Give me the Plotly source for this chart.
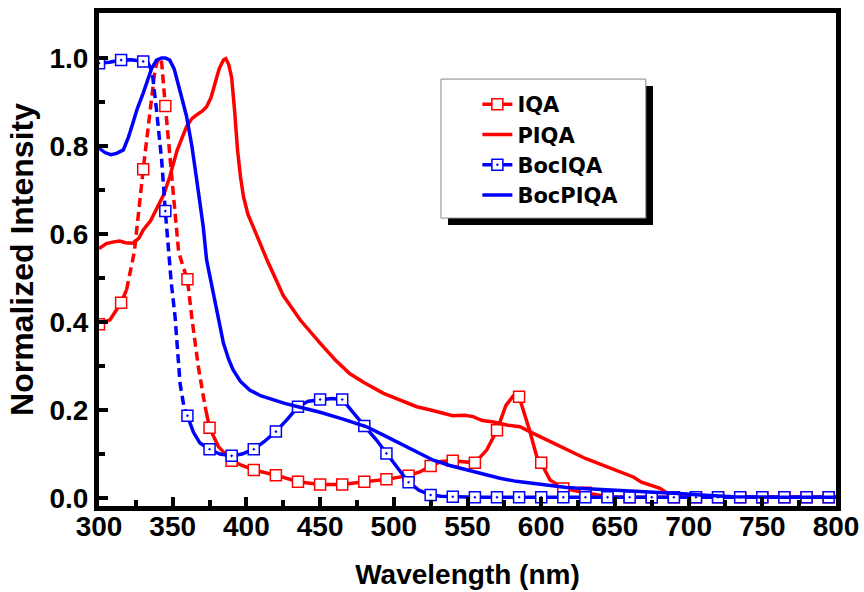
import plotly.graph_objects as go

# ---------------- data ----------------
IQA_x = [300, 307.5, 315, 318.7, 324, 330, 334.6, 338, 340.2, 342.5, 345, 349, 351.5, 354, 357, 360,
         362.9, 367.4, 372, 375, 381, 390, 397, 405, 420, 435, 450, 465, 480, 495, 510, 518, 525, 532,
         540, 548, 555, 563, 570, 576, 581, 585, 592, 597, 600, 606, 615, 630, 645, 660, 675, 690, 705,
         720, 735, 750, 765, 780, 795, 800]
IQA_y = [0.395, 0.405, 0.444, 0.473, 0.56, 0.747, 0.882, 0.973, 1.0, 0.99, 0.891, 0.745, 0.64, 0.56, 0.526, 0.497,
         0.412, 0.298, 0.2075, 0.16, 0.117, 0.085, 0.074, 0.064, 0.052, 0.037, 0.031, 0.031, 0.037, 0.0425, 0.051, 0.06, 0.073, 0.083,
         0.085, 0.082, 0.080, 0.109, 0.154, 0.21, 0.232, 0.230, 0.155, 0.094, 0.080, 0.041, 0.022, 0.012, 0.003, 0.002, 0.002, 0.002, 0.002,
         0.002, 0.002, 0.002, 0.002, 0.002, 0.002, 0.002]

PIQA_x = [300, 305, 310, 314, 318, 323, 327, 330, 335, 339, 344, 348, 353, 359.4, 363, 366, 370, 373, 376, 378.7,
          381.5, 384.4, 386, 388, 390, 392, 394, 396, 398, 401, 405, 410, 414, 425, 436.4, 450, 460, 470, 480,
          493, 505, 515.6, 525, 533.6, 540, 548, 553.8, 560, 567.5, 576.6, 585.6, 594.6, 605, 617.3, 630, 640,
          652, 662.5, 668, 674, 680.6, 687.4, 695, 720, 760, 800]
PIQA_y = [0.567, 0.578, 0.582, 0.584, 0.580, 0.579, 0.59, 0.609, 0.63, 0.655, 0.69, 0.73, 0.79, 0.844, 0.862, 0.87, 0.879, 0.889, 0.91, 0.942,
          0.975, 0.995, 0.998, 0.985, 0.955, 0.88, 0.79, 0.73, 0.685, 0.645, 0.612, 0.57, 0.541, 0.46, 0.405, 0.352, 0.315, 0.283, 0.262,
          0.238, 0.222, 0.2075, 0.2, 0.1925, 0.187, 0.188, 0.185, 0.176, 0.173, 0.166, 0.162, 0.147, 0.13, 0.109, 0.09, 0.077,
          0.062, 0.048, 0.036, 0.030, 0.022, 0.007, 0.003, 0.002, 0.002, 0.002]

BocIQA_x = [300, 307, 315, 322, 330, 333, 336, 339, 342.5, 345, 347, 349, 351.6, 355, 357.5, 360, 364, 368.5,
            375, 382, 390, 397, 405, 412, 420, 428, 435, 442, 450, 458, 465, 472, 480, 488, 495, 503, 510,
            517, 525, 532, 540, 555, 570, 585, 600, 615, 630, 645, 660, 675, 690, 705, 720, 735, 750, 765,
            780, 795, 800]
BocIQA_y = [0.988, 0.99, 0.995, 0.996, 0.992, 0.99, 0.97, 0.882, 0.768, 0.652, 0.564, 0.49, 0.412, 0.26, 0.21, 0.187, 0.15, 0.125,
            0.111, 0.1, 0.096, 0.1, 0.111, 0.128, 0.151, 0.18, 0.2075, 0.22, 0.224, 0.226, 0.224, 0.195, 0.164, 0.133, 0.1015, 0.065, 0.036,
            0.018, 0.007, 0.004, 0.003, 0.002, 0.002, 0.002, 0.002, 0.002, 0.002, 0.002, 0.002, 0.002, 0.002, 0.002, 0.002, 0.002, 0.002, 0.002,
            0.002, 0.002, 0.002]

BocPIQA_x = [300, 304, 308, 312, 316.5, 320, 323, 326, 330, 335.7, 339, 342.5, 345, 348, 351, 353.8, 356.5, 359.4,
             363, 366, 368.5, 370.7, 373, 375.5, 378.7, 381.5, 384.4, 388, 391, 396, 402.4, 410, 418, 426, 435,
             450, 465, 481.6, 493, 504, 515, 526.8, 538, 549.4, 560, 572, 583, 594.6, 605, 617.3, 628, 640, 652,
             662.5, 674, 685, 696, 708, 720, 730, 760, 800]
BocPIQA_y = [0.795, 0.785, 0.78, 0.783, 0.791, 0.82, 0.852, 0.885, 0.92, 0.976, 0.995, 1.0, 1.0, 0.995, 0.975, 0.942, 0.905, 0.867,
             0.8, 0.73, 0.67, 0.617, 0.541, 0.5, 0.45, 0.395, 0.352, 0.315, 0.291, 0.265, 0.245, 0.232, 0.223, 0.215, 0.2075,
             0.195, 0.18, 0.162, 0.143, 0.124, 0.105, 0.086, 0.074, 0.064, 0.054, 0.045, 0.038, 0.033, 0.028, 0.024, 0.022, 0.020, 0.017,
             0.015, 0.014, 0.013, 0.01, 0.007, 0.005, 0.003, 0.002, 0.002]

X_TICKS = [300, 350, 400, 450, 500, 550, 600, 650, 700, 750, 800]
Y_TICKS = [0.0, 0.2, 0.4, 0.6, 0.8, 1.0]
MARKER_STEP = 15
# ---------------------------------------

RED = "#FF0000"
BLUE = "#0000FF"
FONT = "Liberation Sans, Arial, sans-serif"
LFONT = "DejaVu Sans, Liberation Sans, sans-serif"
LW = 3.5

fig = go.Figure()


def split(xs, ys, a, b):
    solid, dashed = [], []
    for x, y in zip(xs, ys):
        solid.append(y if (x <= a or x >= b) else None)
        dashed.append(y if a <= x <= b else None)
    return solid, dashed


def add_marked(xs, ys, color, dash_rng, symbol):
    s, d = split(xs, ys, *dash_rng)
    fig.add_trace(go.Scatter(x=xs, y=s, mode="lines", line=dict(color=color, width=LW),
                             showlegend=False, hoverinfo="skip", connectgaps=False))
    fig.add_trace(go.Scatter(x=xs, y=d, mode="lines", line=dict(color=color, width=LW, dash="9px,5px"),
                             showlegend=False, hoverinfo="skip", connectgaps=False))
    mx = [x for x in xs if x < 800 and abs(x - round(x / MARKER_STEP) * MARKER_STEP) < 1e-9]
    my = [y for x, y in zip(xs, ys) if x in mx]
    fig.add_trace(go.Scatter(x=mx, y=my, mode="markers", showlegend=False, hoverinfo="skip",
                             marker=dict(symbol=symbol, size=11, color="white",
                                         line=dict(color=color, width=1.5))))


def legend_entry(color, name, marker=None):
    if marker:
        fig.add_trace(go.Scatter(x=[None], y=[None], mode="lines+markers", name=name,
                                 line=dict(color=color, width=LW),
                                 marker=dict(symbol=marker, size=11, color="white",
                                             line=dict(color=color, width=1.5))))
    else:
        fig.add_trace(go.Scatter(x=[None], y=[None], mode="lines", name=name,
                                 line=dict(color=color, width=LW)))


add_marked(IQA_x, IQA_y, RED, (318.7, 372), "square")
fig.add_trace(go.Scatter(x=PIQA_x, y=PIQA_y, mode="lines", line=dict(color=RED, width=LW),
                         showlegend=False, hoverinfo="skip"))
add_marked(BocIQA_x, BocIQA_y, BLUE, (333, 360), "square-dot")
fig.add_trace(go.Scatter(x=BocPIQA_x, y=BocPIQA_y, mode="lines", line=dict(color=BLUE, width=LW),
                         showlegend=False, hoverinfo="skip"))

legend_entry(RED, "IQA", "square")
legend_entry(RED, "PIQA")
legend_entry(BLUE, "BocIQA", "square-dot")
legend_entry(BLUE, "BocPIQA")

axis_common = dict(showline=True, linewidth=5, linecolor="black", mirror=True, ticks="inside",
                   ticklen=9, tickwidth=3.5, tickcolor="black", showgrid=False, zeroline=False,
                   automargin=False,
                   tickfont=dict(family=FONT, size=28, color="black", weight="bold"))

fig.update_xaxes(range=[300, 800], tickvals=X_TICKS, ticklabelstandoff=-9,
                 minor=dict(dtick=25, ticks="inside", ticklen=6, tickwidth=3.5, tickcolor="black"),
                 title=dict(text="Wavelength (nm)", font=dict(family=FONT, size=28, color="black", weight="bold"),
                            standoff=25),
                 **axis_common)
fig.update_yaxes(range=[-0.018, 1.102], tickvals=Y_TICKS, tickformat=".1f",
                 minor=dict(dtick=0.1, ticks="inside", ticklen=6, tickwidth=3.5, tickcolor="black"),
                 title=dict(text="Normalized Intensity", font=dict(family=FONT, size=32, color="black", weight="bold"),
                            standoff=8),
                 **axis_common)

# legend frame with drop shadow
fig.add_shape(type="rect", xref="paper", yref="paper", x0=0.4736, x1=0.7517, y0=0.570, y1=0.852,
              fillcolor="black", line=dict(width=0), layer="above")
fig.add_shape(type="rect", xref="paper", yref="paper", x0=0.464, x1=0.742, y0=0.584, y1=0.866,
              fillcolor="white", line=dict(color="#888888", width=1), layer="above")

fig.update_layout(
    width=864, height=592,
    margin=dict(l=99, r=28, t=13, b=86, autoexpand=False),
    paper_bgcolor="white", plot_bgcolor="white",
    legend=dict(x=0.5134, y=0.856, xanchor="left", yanchor="top", bgcolor="rgba(0,0,0,0)",
                borderwidth=0, font=dict(family=LFONT, size=21, color="black", weight="bold"),
                tracegroupgap=0, itemwidth=30),
    showlegend=True,
)

fig.write_html("out.html")
